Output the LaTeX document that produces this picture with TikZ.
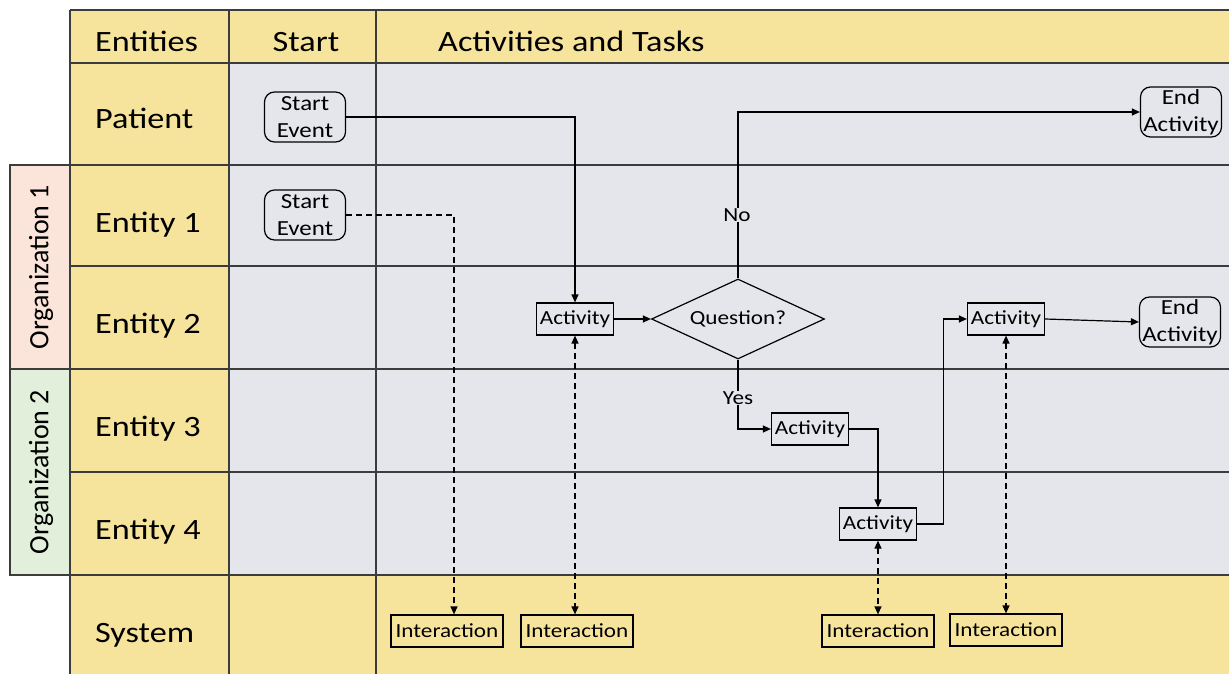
\documentclass[tikz,border=0pt]{standalone}
\usepackage{fontspec}
\setmainfont[FakeStretch=1.16]{Carlito}
\newfontfamily\orgfont{Carlito}
\usetikzlibrary{arrows.meta,shapes.geometric}
\definecolor{laneyellow}{HTML}{F7E49C}
\definecolor{lanegray}{HTML}{E4E6EB}
\definecolor{orgpink}{HTML}{FBE4D9}
\definecolor{orggreen}{HTML}{E2EFDA}
\definecolor{gridline}{HTML}{3C3C3C}
\tikzset{
  grid/.style={draw=gridline, line width=1.3pt},
  head/.style={font=\fontsize{29.5}{33}\selectfont, inner sep=0pt},
  orglabel/.style={font=\orgfont\fontsize{28}{32}\selectfont, rotate=90, inner sep=0pt},
  small/.style={font=\fontsize{20}{24}\selectfont},
  event/.style={draw=black, line width=1.2pt, rounded corners=10pt, fill=lanegray,
    minimum width=81pt, minimum height=50pt, inner sep=0pt, align=center,
    font=\fontsize{21.5}{27}\selectfont},
  act/.style={small, draw=black, line width=1.2pt, fill=lanegray, minimum width=77pt,
    minimum height=32pt, inner sep=2pt},
  inter/.style={act, fill=laneyellow, minimum width=112pt},
  decision/.style={small, diamond, shape aspect=2.16, draw=black, line width=1.2pt,
    fill=lanegray, minimum width=173pt, minimum height=80pt, inner sep=0pt},
  flow/.style={draw=black, line width=1.2pt, -{Triangle[length=8pt,width=7pt]}},
  dashline/.style={draw=black, line width=1.2pt, dash pattern=on 6pt off 4pt},
  link/.style={dashline,
    {Triangle[length=8pt,width=7pt]}-{Triangle[length=8pt,width=7pt]}},
  lbl/.style={small, fill=lanegray, inner sep=1pt}
}
\begin{document}
\begin{tikzpicture}[x=1pt, y=-1pt]
\useasboundingbox (0,0) rectangle (1229,674);
% lane backgrounds
\fill[lanegray] (229,63) rectangle (1229,575);
\fill[laneyellow] (70,10) rectangle (1229,63);
\fill[laneyellow] (70,63) rectangle (229,575);
\fill[laneyellow] (70,575) rectangle (1229,674);
\fill[orgpink] (10,165) rectangle (70,369);
\fill[orggreen] (10,369) rectangle (70,575);
% grid lines
\foreach \y in {10,63,165,266,369,472,575}
  \draw[grid] (70,\y) -- (1229,\y);
\foreach \x in {70,229,376}
  \draw[grid] (\x,10) -- (\x,674);
\draw[grid] (10,165) rectangle (70,369);
\draw[grid] (10,369) rectangle (70,575);
% headings
\node[head, anchor=base west] (hEnt) at (95,52) {Entities};
\node[head, anchor=base] (hStart) at (306,52) {Start};
\node[head, anchor=base west] (hAct) at (438,52) {Activities and Tasks};
\node[head, anchor=base west] (rPat) at (95,129) {Patient};
\node[head, anchor=base west] (rE1) at (95,232) {Entity 1};
\node[head, anchor=base west] (rE2) at (95,333) {Entity 2};
\node[head, anchor=base west] (rE3) at (95,436) {Entity 3};
\node[head, anchor=base west] (rE4) at (95,539) {Entity 4};
\node[head, anchor=base west] (rSys) at (95,642) {System};
\node[orglabel] (org1) at (41,267) {Organization 1};
\node[orglabel] (org2) at (41,472) {Organization 2};
% flow nodes
\node[event] (s1) at (305,117) {Start\\Event};
\node[event] (s2) at (305,215) {Start\\Event};
\node[act] (a1) at (575,319) {Activity};
\node[decision] (q) at (738,319) {Question?};
\node[event] (e1) at (1181,112) {End\\Activity};
\node[event] (e2) at (1180,322) {End\\Activity};
\node[act] (a3) at (810,429) {Activity};
\node[act] (a4) at (878,524) {Activity};
\node[act] (a5) at (1006,319) {Activity};
\node[inter] (i1) at (447,631) {Interaction};
\node[inter] (i2) at (577,631) {Interaction};
\node[inter] (i3) at (878,631) {Interaction};
\node[inter] (i4) at (1006,630) {Interaction};
% connectors
\draw[flow] (s1.east) -| (a1.north);
\draw[flow] (a1.east) -- (q.west);
\draw[flow] (q.north) |- (e1.west);
\draw[flow] (q.south) |- (a3.west);
\draw[flow] (a3.east) -| (a4.north);
\draw[flow] (a4.east) -- ++(26,0) |- (a5.west);
\draw[flow] (a5.east) -- (e2.west);
\draw[dashline, -{Triangle[length=8pt,width=7pt]}] (s2.east) -| ([xshift=7pt]i1.north);
\draw[link] (a1.south) -- (i2.north -| a1.south);
\draw[link] (a4.south) -- (i3.north);
\draw[link] (a5.south) -- (i4.north);
% branch labels
\node[lbl] (no) at (737,215) {No};
\node[lbl] (yes) at (738,398) {Yes};
\end{tikzpicture}
\end{document}
